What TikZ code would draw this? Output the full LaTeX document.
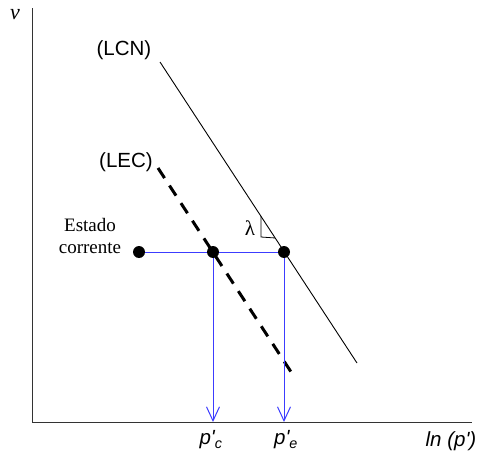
\documentclass[tikz,border=0pt]{standalone}
\usepackage{fontspec}
\setmainfont{Liberation Sans}[Ligatures=TeXOff]
\newfontfamily\serifface{Liberation Serif}
\usetikzlibrary{positioning,calc,arrows.meta}
\definecolor{pathblue}{RGB}{60,60,255}

\begin{document}
\begin{tikzpicture}[
  x=1pt, y=-1pt,
  font=\fontsize{20.5}{24}\selectfont,
  axis/.style={line width=1pt, black!80},
  lcn/.style={line width=0.9pt},
  lec/.style={line width=3pt, dash pattern=on 12pt off 9pt},
  path/.style={line width=1pt, pathblue},
  proj/.style={path, -{Straight Barb[length=14pt, width=13pt]}},
  dot/.style={circle, fill=black, inner sep=0pt, minimum size=12pt},
  lbl/.style={inner sep=1pt},
]
\useasboundingbox (0,0) rectangle (480,455);
% axes
\coordinate (origin) at (32,422);
\coordinate (ytop) at (32,8);
\coordinate (xend) at (472,422);
\draw[axis] (ytop) -- (origin) -- (xend);
\node[lbl, font=\serifface\itshape\fontsize{22}{24}\selectfont] (vlab) at (15,15) {v};
\node[lbl] (xlab) at (451,441) {\itshape ln (p')};
% lines
\coordinate (lcnA) at (160,62);
\coordinate (lcnB) at (357,363);
\coordinate (lecA) at (158,168);
\coordinate (lecB) at (295,378);
\draw[lcn] (lcnA) -- (lcnB);
\draw[lec] (lecA) -- (lecB);
\node[lbl] (lcnlab) at (124,50) {(LCN)};
\node[lbl] (leclab) at (126,162) {(LEC)};
% states
\node[dot] (cur) at (139,252) {};
\node[dot] (pc) at (213,252) {};
\node[dot] (pe) at (284,252) {};
\node[lbl, align=center, font=\serifface\fontsize{19}{22}\selectfont] (estado) at (90,236) {Estado\\corrente};
% slope
\coordinate (tri1) at (261,216);
\coordinate (tri2) at (261,237);
\coordinate (tri3) at ($(lcnA)!0.5847!(lcnB)$);
\draw[line width=0.8pt] (tri1) -- (tri2) -- (tri3);
\node[lbl, font=\serifface\fontsize{21}{24}\selectfont] (lam) at (250,228) {λ};
% projections
\draw[path] (cur) -- (pc) -- (pe);
\draw[proj] (pc) -- (pc |- origin);
\draw[proj] (pe) -- (pe |- origin);
\node[lbl] (pclab) at (211,440) {\itshape p'\textsubscript{c}};
\node[lbl] (pelab) at (286,440) {\itshape p'\textsubscript{e}};
\end{tikzpicture}
\end{document}
